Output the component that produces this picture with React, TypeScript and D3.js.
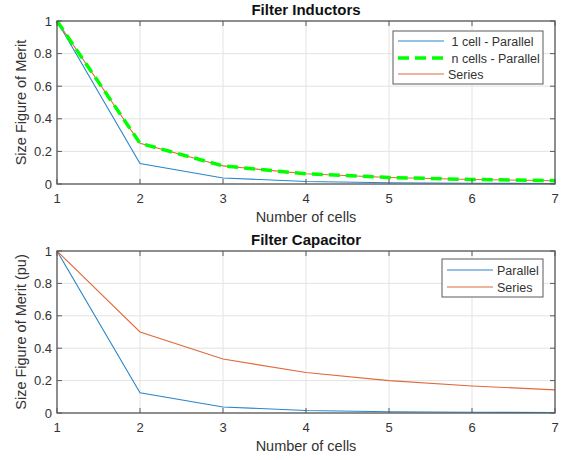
import React from "react";
import * as d3 from "d3";

const cells = [1, 2, 3, 4, 5, 6, 7];
const indOneCellParallel = [1, 0.125, 0.037, 0.0156, 0.008, 0.0046, 0.0029];
const indNCellsParallel = [1, 0.25, 0.111, 0.0625, 0.04, 0.0278, 0.0204];
const indSeries = [1, 0.25, 0.111, 0.0625, 0.04, 0.0278, 0.0204];
const capParallel = [1, 0.125, 0.037, 0.0156, 0.008, 0.0046, 0.0029];
const capSeries = [1, 0.5, 0.333, 0.25, 0.2, 0.167, 0.143];
const xTicks = [1, 2, 3, 4, 5, 6, 7];
const yTicks = [0, 0.2, 0.4, 0.6, 0.8, 1];

const BLUE = "#2b86c9";
const ORANGE = "#e06a3a";
const GREEN = "#00FF00";
const AX = "#5a5a5a";
const TXT = "#333333";
const FONT = "'Liberation Sans', Arial, Helvetica, sans-serif";

type Series = { label: string; values: number[]; color: string; width: number; dash?: string };

type PanelProps = {
  top: number;
  bottom: number;
  title: string;
  ylabel: string;
  series: Series[];
  legend: { x0: number; x1: number; y0: number; y1: number; rows: number[]; lineX0: number; lineX1: number; textX: number };
};

function Panel({ top, bottom, title, ylabel, series, legend }: PanelProps) {
  const left = 57;
  const right = 555;
  const x = d3.scaleLinear().domain([1, 7]).range([left, right]);
  const y = d3.scaleLinear().domain([0, 1]).range([bottom, top]);
  const line = d3
    .line<number>()
    .x((_, i) => x(cells[i]))
    .y((d) => y(d));
  const tl = 5;
  const drawOrder = [...series].sort((a, b) => a.width - b.width);
  return (
    <g>
      {xTicks.map((t) => (
        <line key={"gx" + t} x1={x(t)} x2={x(t)} y1={top} y2={bottom} stroke="#e3e3e3" strokeWidth={1} />
      ))}
      {yTicks.map((t) => (
        <line key={"gy" + t} x1={left} x2={right} y1={y(t)} y2={y(t)} stroke="#e3e3e3" strokeWidth={1} />
      ))}
      {drawOrder.map((s) => (
        <path
          key={s.label}
          d={line(s.values) || ""}
          fill="none"
          stroke={s.color}
          strokeWidth={s.width}
          strokeDasharray={s.dash}
        />
      ))}
      <rect x={left} y={top} width={right - left} height={bottom - top} fill="none" stroke={AX} strokeWidth={1.3} />
      {xTicks.map((t) => (
        <g key={"tx" + t}>
          <line x1={x(t)} x2={x(t)} y1={bottom} y2={bottom - tl} stroke={AX} strokeWidth={1} />
          <line x1={x(t)} x2={x(t)} y1={top} y2={top + tl} stroke={AX} strokeWidth={1} />
          <text x={x(t)} y={bottom + 19} textAnchor="middle" fontSize={13} fill={TXT} fontFamily={FONT}>
            {t}
          </text>
        </g>
      ))}
      {yTicks.map((t) => (
        <g key={"ty" + t}>
          <line x1={left} x2={left + tl} y1={y(t)} y2={y(t)} stroke={AX} strokeWidth={1} />
          <line x1={right} x2={right - tl} y1={y(t)} y2={y(t)} stroke={AX} strokeWidth={1} />
          <text x={left - 5} y={y(t) + 4.5} textAnchor="end" fontSize={13} fill={TXT} fontFamily={FONT}>
            {d3.format("~g")(t)}
          </text>
        </g>
      ))}
      <text x={(left + right) / 2} y={top - 6} textAnchor="middle" fontSize={15} fontWeight="bold" fill="#111" fontFamily={FONT}>
        {title}
      </text>
      <text x={(left + right) / 2} y={bottom + 38} textAnchor="middle" fontSize={14.5} fill={TXT} fontFamily={FONT}>
        Number of cells
      </text>
      <text
        transform={`translate(26,${(top + bottom) / 2}) rotate(-90)`}
        textAnchor="middle"
        fontSize={14.5}
        fill={TXT}
        fontFamily={FONT}
      >
        {ylabel}
      </text>
      <rect
        x={legend.x0}
        y={legend.y0}
        width={legend.x1 - legend.x0}
        height={legend.y1 - legend.y0}
        fill="#fff"
        stroke={AX}
        strokeWidth={1}
      />
      {series.map((s, i) => (
        <g key={"lg" + s.label}>
          <line
            x1={legend.lineX0}
            x2={legend.lineX1}
            y1={legend.rows[i]}
            y2={legend.rows[i]}
            stroke={s.color}
            strokeWidth={s.width}
            strokeDasharray={s.dash}
          />
          <text
            x={legend.textX}
            y={legend.rows[i] + 4.5}
            fontSize={12.5}
            fill={TXT}
            fontFamily={FONT}
            style={{ whiteSpace: "pre" }}
          >
            {s.label}
          </text>
        </g>
      ))}
    </g>
  );
}

export default function App() {
  return (
    <svg width={568} height={460} style={{ position: "absolute", left: 0, top: 0, background: "#fff" }}>
      <Panel
        top={21}
        bottom={184}
        title="Filter Inductors"
        ylabel="Size Figure of Merit"
        series={[
          { label: " 1 cell - Parallel", values: indOneCellParallel, color: BLUE, width: 1.1 },
          { label: " n cells - Parallel", values: indNCellsParallel, color: GREEN, width: 3.5, dash: "11,6" },
          { label: "Series", values: indSeries, color: ORANGE, width: 1.1 },
        ]}
        legend={{ x0: 393, x1: 543, y0: 31, y1: 84, rows: [41, 58, 74], lineX0: 398, lineX1: 444, textX: 448 }}
      />
      <Panel
        top={251}
        bottom={413}
        title="Filter Capacitor"
        ylabel="Size Figure of Merit (pu)"
        series={[
          { label: "Parallel", values: capParallel, color: BLUE, width: 1.1 },
          { label: "Series", values: capSeries, color: ORANGE, width: 1.1 },
        ]}
        legend={{ x0: 442, x1: 543, y0: 259, y1: 297, rows: [270, 287], lineX0: 447, lineX1: 493, textX: 497 }}
      />
    </svg>
  );
}
